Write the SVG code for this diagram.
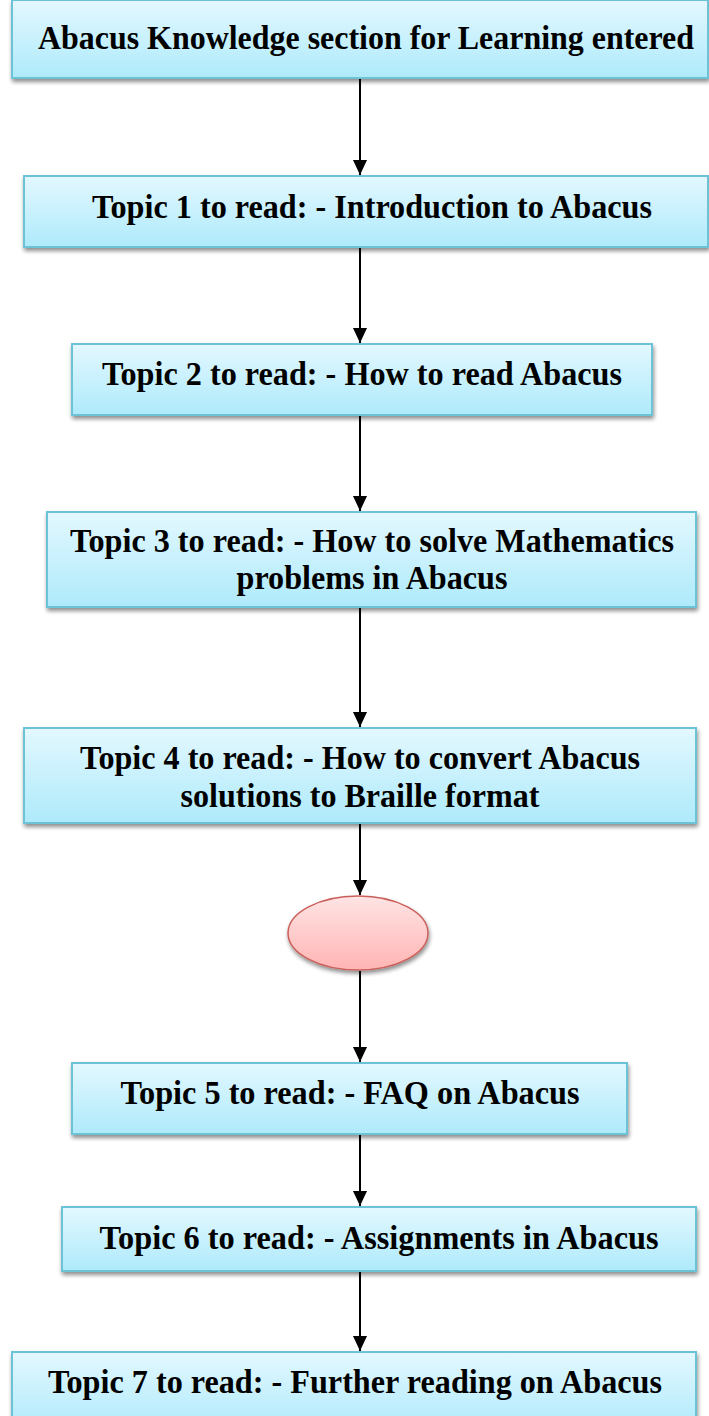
<svg xmlns="http://www.w3.org/2000/svg" width="709" height="1416" viewBox="0 0 709 1416">
<defs>
<linearGradient id="gb" x1="0" y1="0" x2="0" y2="1">
<stop offset="0" stop-color="#e3f8ff"/>
<stop offset="1" stop-color="#aeeafb"/>
</linearGradient>
<linearGradient id="gr" x1="0" y1="0" x2="0" y2="1">
<stop offset="0" stop-color="#ffe4e4"/>
<stop offset="1" stop-color="#ffb4b4"/>
</linearGradient>
<filter id="sh" x="-10%" y="-10%" width="120%" height="140%">
<feGaussianBlur in="SourceAlpha" stdDeviation="2"/>
<feOffset dx="1" dy="3" result="b"/>
<feComponentTransfer><feFuncA type="linear" slope="0.45"/></feComponentTransfer>
<feMerge><feMergeNode/><feMergeNode in="SourceGraphic"/></feMerge>
</filter>
<marker id="ah" markerWidth="16" markerHeight="16" refX="15" refY="8" orient="auto" markerUnits="userSpaceOnUse">
<path d="M0,1 L15,8 L0,15 Z" fill="#000"/>
</marker>
</defs>
<style>
.box{fill:url(#gb);stroke:#6cc3d6;stroke-width:2;filter:url(#sh)}
.ell{fill:url(#gr);stroke:#c9605c;stroke-width:1.5;filter:url(#sh)}
.t{font-family:"Liberation Serif","Times New Roman",serif;font-weight:bold;font-size:33px;fill:#000;text-anchor:middle}
.c{stroke:#000;stroke-width:2;fill:none;marker-end:url(#ah)}
</style>
<rect width="709" height="1416" fill="#fff"/>
<g id="connectors">
<line class="c" x1="360" y1="79" x2="360" y2="175"/>
<line class="c" x1="360" y1="248" x2="360" y2="343"/>
<line class="c" x1="360" y1="416" x2="360" y2="511"/>
<line class="c" x1="360" y1="608" x2="360" y2="727"/>
<line class="c" x1="360" y1="824" x2="360" y2="895"/>
<line class="c" x1="360" y1="971" x2="360" y2="1062"/>
<line class="c" x1="360" y1="1135" x2="360" y2="1206"/>
<line class="c" x1="360" y1="1272" x2="360" y2="1351"/>
</g>
<g id="n0">
<rect class="box" x="12" y="0" width="696" height="78"/>
<text class="t" x="366" y="49" textLength="656" lengthAdjust="spacingAndGlyphs">Abacus Knowledge section for Learning entered</text>
</g>
<g id="n1">
<rect class="box" x="24" y="176" width="684" height="71"/>
<text class="t" x="372" y="218" textLength="560" lengthAdjust="spacingAndGlyphs">Topic 1 to read: - Introduction to Abacus</text>
</g>
<g id="n2">
<rect class="box" x="72" y="344" width="580" height="71"/>
<text class="t" x="362" y="385" textLength="520" lengthAdjust="spacingAndGlyphs">Topic 2 to read: - How to read Abacus</text>
</g>
<g id="n3">
<rect class="box" x="47" y="512" width="649" height="95"/>
<text class="t" x="372" y="552" textLength="604" lengthAdjust="spacingAndGlyphs">Topic 3 to read: - How to solve Mathematics</text>
<text class="t" x="372" y="589" textLength="271" lengthAdjust="spacingAndGlyphs">problems in Abacus</text>
</g>
<g id="n4">
<rect class="box" x="24" y="728" width="672" height="95"/>
<text class="t" x="360" y="769" textLength="560" lengthAdjust="spacingAndGlyphs">Topic 4 to read: - How to convert Abacus</text>
<text class="t" x="360" y="807" textLength="359" lengthAdjust="spacingAndGlyphs">solutions to Braille format</text>
</g>
<g id="n5">
<ellipse class="ell" cx="358" cy="933" rx="70" ry="37"/>
</g>
<g id="n6">
<rect class="box" x="72" y="1063" width="555" height="71"/>
<text class="t" x="350" y="1104" textLength="459" lengthAdjust="spacingAndGlyphs">Topic 5 to read: - FAQ on Abacus</text>
</g>
<g id="n7">
<rect class="box" x="62" y="1207" width="634" height="64"/>
<text class="t" x="379" y="1249" textLength="559" lengthAdjust="spacingAndGlyphs">Topic 6 to read: - Assignments in Abacus</text>
</g>
<g id="n8">
<rect class="box" x="12" y="1352" width="684" height="80"/>
<text class="t" x="355" y="1393" textLength="614" lengthAdjust="spacingAndGlyphs">Topic 7 to read: - Further reading on Abacus</text>
</g>
</svg>
